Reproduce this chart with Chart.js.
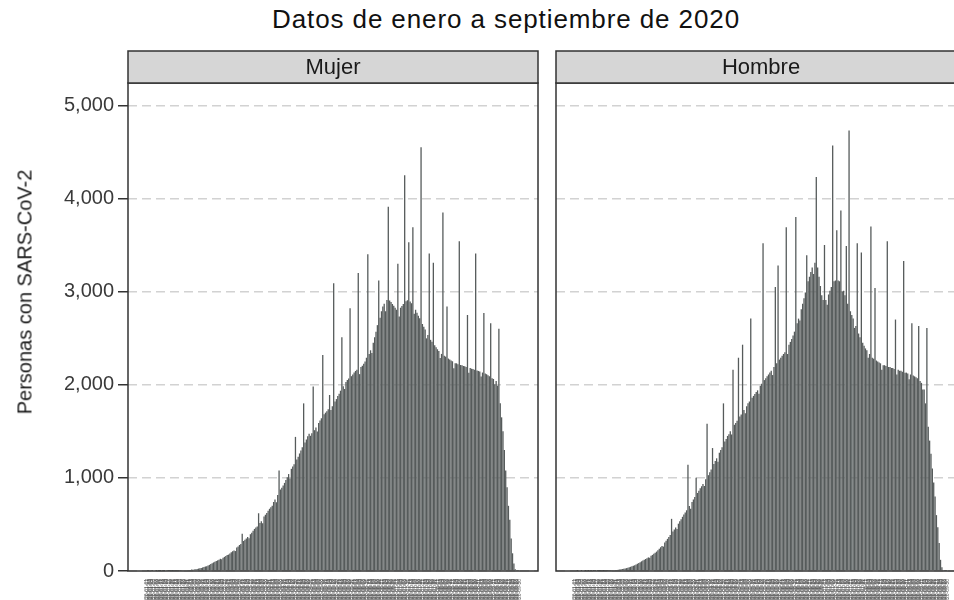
<!DOCTYPE html>
<html>
<head>
<meta charset="utf-8">
<script src="https://cdn.jsdelivr.net/npm/chart.js@4.4.1/dist/chart.umd.min.js"></script>
<style>
html, body { margin:0; padding:0; background:#fff; }
body { width:954px; height:600px; overflow:hidden; position:relative; font-family:"Liberation Sans", Arial, Helvetica, sans-serif; }
#title { position:absolute; top:4px; left:206px; width:600px; text-align:center; font-size:26px; letter-spacing:0.9px; color:#111; white-space:nowrap; }
#ytitle { position:absolute; left:25px; top:292px; transform:translate(-50%,-50%) rotate(-90deg); font-size:20px; color:#1a1a1a; white-space:nowrap; }
#c1 { position:absolute; left:0; top:0; }
#c2 { position:absolute; left:548px; top:0; }
</style>
</head>
<body>
<div id="title">Datos de enero a septiembre de 2020</div>
<canvas id="c1" width="545" height="600"></canvas>
<canvas id="c2" width="418" height="600"></canvas>
<div id="ytitle">Personas con SARS-CoV-2</div>
<script>
// ---- data (daily cases, 2020-01-01 .. 2020-09-30) ----
const panelLabels = ['Mujer', 'Hombre'];
const yTickValues = [0, 1000, 2000, 3000, 4000, 5000];
const startDate = '2020-01-01';

const mujer = [
0,1,0,0,1,0,0,1,0,1,
1,0,1,1,0,2,1,1,2,1,
2,3,2,3,4,3,5,6,7,8,
9,11,12,15,13,17,19,22,26,29,
33,38,42,47,52,60,66,74,83,92,
99,108,114,122,131,126,143,152,160,171,
176,189,201,212,221,214,252,262,279,291,
400,322,336,348,366,352,395,412,431,452,
466,479,620,516,533,512,585,604,622,646,
668,684,700,741,768,738,815,1080,875,893,
918,946,978,1006,1041,994,1097,1122,1146,1440,
1198,1226,1262,1293,1330,1800,1381,1412,1446,1475,
1452,1478,1980,1512,1540,1498,1590,1615,1640,2320,
1682,1700,1715,1738,1890,1730,1768,3090,1820,1846,
1880,1902,1936,2510,1985,1954,2030,2050,2068,2820,
2092,2110,2131,2148,2160,3200,2114,2190,2204,2226,
2250,2290,3400,2330,2370,2340,2450,2510,2570,2640,
3120,2720,2790,2840,2870,2790,2910,3910,2905,2888,
2866,2847,2828,2805,3300,2734,2827,2845,2868,4250,
2896,2907,3530,2894,2876,3690,2762,2806,2774,2742,
2713,4550,2652,2624,2593,2498,2534,3410,2482,2461,
3310,2423,2402,2381,2362,2286,2331,3850,2311,2302,
2840,2281,2272,2261,2252,2178,2232,2230,2221,3540,
2212,2209,2201,2198,2190,2750,2128,2181,2172,2169,
2161,3410,2152,2148,2141,2089,2131,2770,2122,2113,
2101,2092,2660,2071,2062,2006,2041,1990,2600,1800,
1650,1500,1300,1080,900,700,550,350,190,80,
20,5,2,0
];

const hombre = [
0,0,1,0,0,1,0,0,1,0,
1,0,1,0,1,1,0,1,1,2,
2,1,3,3,2,4,4,5,7,8,
10,11,14,15,18,21,24,27,31,35,
39,45,51,57,63,71,78,87,95,104,
112,120,129,138,146,142,163,173,184,195,
208,224,238,254,269,262,305,325,345,366,
386,560,425,446,466,452,508,533,557,582,
606,627,652,1140,697,668,742,768,794,1000,
838,862,888,910,934,912,984,1580,1029,1060,
1090,1320,1148,1180,1210,1172,1270,1300,1330,1800,
1390,1418,1450,1468,1500,1466,2160,1570,1590,1612,
2290,1660,1680,2430,1730,1694,1770,1800,1820,2710,
1860,1880,1900,1922,1940,1902,1990,2010,3520,2050,
2070,2090,2110,2131,2150,2104,2190,3050,2230,3280,
2270,2290,2310,2330,2350,3690,2330,2430,2460,2490,
2530,2570,3800,2660,2710,2690,2810,2870,2930,2990,
3390,3110,3160,3210,3260,3190,3310,4230,3260,3160,
3060,2960,2910,3500,2910,2860,2970,3010,3050,4570,
3110,3120,3660,3120,3110,3870,3000,3010,2960,3490,
2870,4730,2790,2750,2710,2610,2630,3520,2550,2510,
3420,2450,2420,2390,2370,2290,2330,3700,2290,2280,
3040,2260,2250,2240,2230,2160,2210,2210,2200,3540,
2190,2190,2180,2180,2170,2700,2110,2160,2150,2150,
2140,3330,2130,2130,2120,2060,2110,2660,2100,2090,
2080,2070,2630,2040,2020,1950,1950,1800,2610,1550,
1400,1260,1100,950,800,600,470,300,120,40,
10,3,1,0
];

// date labels, one per day
const dias = mujer.map((_, i) => {
  const d = new Date(startDate + 'T00:00:00Z');
  d.setUTCDate(d.getUTCDate() + i);
  return d.toISOString().slice(0, 10);
});

const FONT = '"Liberation Sans", Arial, Helvetica, sans-serif';
const BAR = '#565b5b';
const span = dias.length - 1;
const XMIN = -0.05 * span, XMAX = span + 0.05 * span;

const panelDeco = {
  id: 'panelDeco',
  afterDraw(chart, args, opts) {
    const { ctx, chartArea: a } = chart;
    ctx.save();
    ctx.lineWidth = 1.5;
    ctx.strokeStyle = '#333';
    ctx.strokeRect(a.left, a.top, a.right - a.left, a.bottom - a.top);
    const h = 32;
    ctx.fillStyle = '#d6d6d6';
    ctx.fillRect(a.left, a.top - h, a.right - a.left, h);
    ctx.strokeRect(a.left, a.top - h, a.right - a.left, h);
    ctx.fillStyle = '#1a1a1a';
    ctx.font = '22px ' + FONT;
    ctx.textAlign = 'center';
    ctx.textBaseline = 'middle';
    ctx.fillText(opts.label, (a.left + a.right) / 2, a.top - h / 2 + 1);
    ctx.restore();
  }
};

function panel(id, label, values, first) {
  return new Chart(document.getElementById(id), {
    type: 'bar',
    data: {
      datasets: [{
        data: values.map((v, i) => ({ x: i, y: v })),
        backgroundColor: BAR,
        borderWidth: 0,
        barPercentage: 0.95,
        categoryPercentage: 1.0
      }]
    },
    options: {
      responsive: false,
      animation: false,
      events: [],
      layout: { padding: { top: 83, right: first ? 7 : 0, left: first ? 0 : 8, bottom: 0 } },
      plugins: {
        legend: { display: false },
        tooltip: { enabled: false },
        panelDeco: { label: label }
      },
      scales: {
        x: {
          type: 'linear', min: XMIN, max: XMAX, offset: false,
          grid: { display: false, drawTicks: false },
          border: { display: false },
          afterBuildTicks: s => { s.ticks = dias.map((d, i) => ({ value: i })); },
          afterFit: s => { s.height = 29; },
          ticks: {
            autoSkip: false, minRotation: 90, maxRotation: 90, padding: 8,
            font: { size: 5, family: FONT }, color: '#555',
            callback: v => dias[v]
          }
        },
        y: {
          min: 0, max: 5240,
          afterBuildTicks: s => { s.ticks = yTickValues.map(v => ({ value: v })); },
          afterFit: s => { s.width = first ? 128 : 0; },
          grid: { color: '#d2d2d2', lineWidth: 1.5, drawTicks: first, tickLength: 10,
                  tickColor: '#333', tickWidth: 1.5, tickBorderDash: [] },
          border: { display: false, dash: [9, 5] },
          ticks: { display: first, padding: 4, font: { size: 20, family: FONT }, color: '#3a3a3a',
                   callback: v => v.toLocaleString('en-US') },
          title: { display: false }
        }
      }
    },
    plugins: [panelDeco]
  });
}

panel('c1', panelLabels[0], mujer, true);
panel('c2', panelLabels[1], hombre, false);
</script>
</body>
</html>
